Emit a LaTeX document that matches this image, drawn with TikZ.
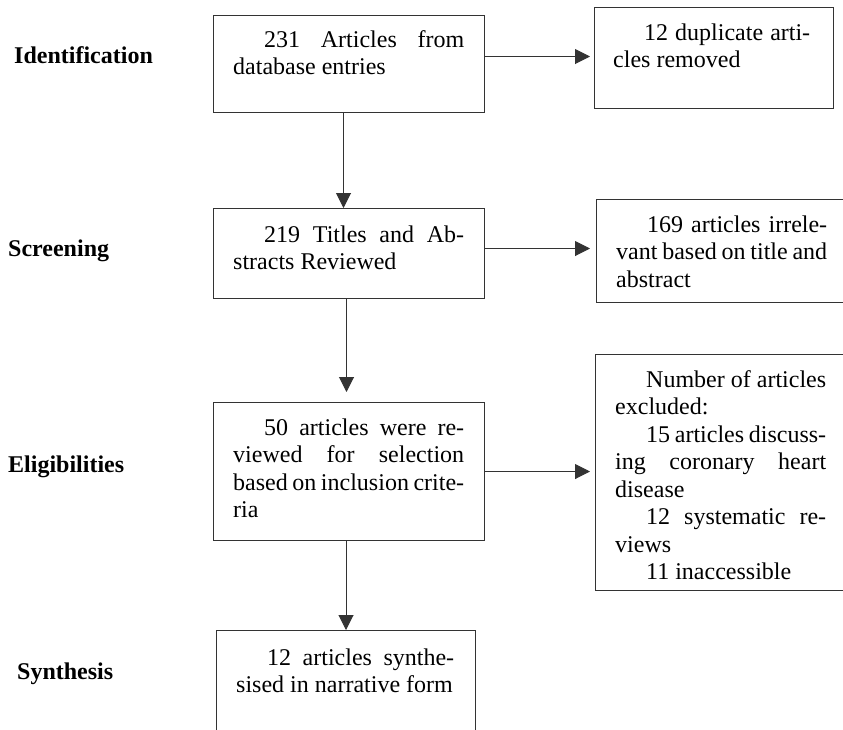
\documentclass[tikz,border=0pt]{standalone}
\usepackage{fontspec}
\setmainfont{Liberation Serif}
\usetikzlibrary{arrows.meta,calc}
\newlength\ljind
\setlength\ljind{31pt}
\newcommand\ljsp{\spaceskip=0.25em plus 1fil minus 0.09em\relax}
\newcommand\ljnat{\spaceskip=0.25em\relax}
\newcommand\ljf[1]{\noindent\hspace*{\ljind}\makebox[\dimexpr\linewidth-\ljind\relax][s]{\ljsp\strut #1}\par}
\newcommand\ljm[1]{\noindent\makebox[\linewidth][s]{\ljsp\strut #1}\par}
\newcommand\ljl[1]{\noindent\mbox{\ljnat\strut #1}\par}
\newcommand\ljo[1]{\noindent\hspace*{\ljind}\mbox{\ljnat\strut #1}\par}
\begin{document}
\begin{tikzpicture}[x=1pt,y=-1pt,
  font=\fontsize{24}{27.5}\selectfont,
  boxshape/.style={draw=black!80, line width=1pt, rectangle, inner sep=0pt, anchor=north west},
  txt/.style={inner sep=0pt, anchor=north west},
  lbl/.style={inner sep=0pt, anchor=base west, font=\fontsize{24}{27.5}\selectfont\bfseries},
  arr/.style={draw=black!80, line width=1pt, -{Triangle[length=15pt,width=15pt]}}]
\useasboundingbox (0,0) rectangle (843,729);
\clip (0,0) rectangle (843,729);
% boxes
\node[boxshape, minimum width=271pt, minimum height=97pt]  (b1) at (213,15)  {};
\node[boxshape, minimum width=239pt, minimum height=101pt] (r1) at (594,7)   {};
\node[boxshape, minimum width=271pt, minimum height=90pt]  (b2) at (213,208) {};
\node[boxshape, minimum width=252pt, minimum height=103pt] (r2) at (596,199) {};
\node[boxshape, minimum width=271pt, minimum height=138pt] (b3) at (213,402) {};
\node[boxshape, minimum width=253pt, minimum height=236pt] (r3) at (595,354) {};
\node[boxshape, minimum width=259pt, minimum height=120pt] (b4) at (216,630) {};
% texts
\node[txt, text width=231pt] (t1) at (233,27.75) {\ljf{231 Articles from}\ljl{database entries}};
\node[txt, text width=197pt] (tr1) at (613,20.75) {\ljf{12 duplicate arti-}\ljl{cles removed}};
\node[txt, text width=231pt] (t2) at (233,222.75) {\ljf{219 Titles and Ab-}\ljl{stracts Reviewed}};
\node[txt, text width=211pt] (tr2) at (616,212.75) {\ljf{169 articles irrele-}\ljm{vant based on title and}\ljl{abstract}};
\node[txt, text width=231pt] (t3) at (233,415.75) {\ljf{50 articles were re-}\ljm{viewed for selection}\ljm{based on inclusion crite-}\ljl{ria}};
\node[txt, text width=211pt] (tr3) at (615,367.75) {\ljf{Number of articles}\ljl{excluded:}\ljf{15 articles discuss-}\ljm{ing coronary heart}\ljl{disease}\ljf{12 systematic re-}\ljl{views}\ljo{11 inaccessible}};
\node[txt, text width=218pt] (t4) at (236,645.75) {\ljf{12 articles synthe-}\ljl{sised in narrative form}};
% stage labels
\node[lbl] (l1) at (14,63)  {Identification};
\node[lbl] (l2) at (8,256)  {Screening};
\node[lbl] (l3) at (8,472)  {Eligibilities};
\node[lbl] (l4) at (17,679) {Synthesis};
% connectors
\draw[arr, shorten >=4pt] ([yshift=1.5pt]r1.west -| b1.east) -- ([yshift=1.5pt]r1.west);
\draw[arr, shorten >=6pt] ([yshift=2.5pt]r2.west -| b2.east) -- ([yshift=2.5pt]r2.west);
\draw[arr, shorten >=5pt] (b3.east) -- (b3.east -| r3.west);
\draw[arr] ([xshift=-5.5pt]b1.south) -- ([xshift=-5.5pt]b2.north);
\draw[arr, shorten >=10pt] ([xshift=-2.5pt]b2.south) -- ([xshift=-2.5pt]b3.north);
\draw[arr] (b4.north |- b3.south) -- (b4.north);
\end{tikzpicture}
\end{document}
